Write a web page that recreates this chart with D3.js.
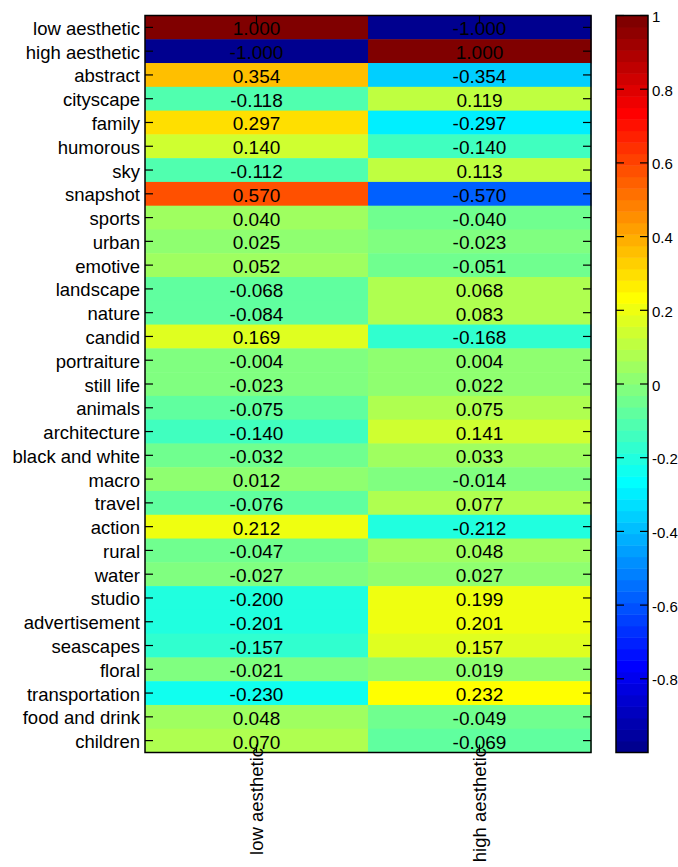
<!DOCTYPE html>
<html><head><meta charset="utf-8">
<script src="https://cdn.jsdelivr.net/npm/d3@7"></script>
<style>body{margin:0;background:#fff}svg{display:block;font-family:"Liberation Sans",Arial,sans-serif}</style>
</head><body>
<script>
const rows = ["low aesthetic","high aesthetic","abstract","cityscape","family","humorous","sky","snapshot","sports","urban","emotive","landscape","nature","candid","portraiture","still life","animals","architecture","black and white","macro","travel","action","rural","water","studio","advertisement","seascapes","floral","transportation","food and drink","children"];
const columns = ["low aesthetic","high aesthetic"];
const lowValues = [1.000,-1.000,0.354,-0.118,0.297,0.140,-0.112,0.570,0.040,0.025,0.052,-0.068,-0.084,0.169,-0.004,-0.023,-0.075,-0.140,-0.032,0.012,-0.076,0.212,-0.047,-0.027,-0.200,-0.201,-0.157,-0.021,-0.230,0.048,0.070];
const highValues = [-1.000,1.000,-0.354,0.119,-0.297,-0.140,0.113,-0.570,-0.040,-0.023,-0.051,0.068,0.083,-0.168,0.004,0.022,0.075,0.141,0.033,-0.014,0.077,-0.212,0.048,0.027,0.199,0.201,0.157,0.019,0.232,-0.049,-0.069];
const colorbarTicks = [-0.8,-0.6,-0.4,-0.2,0,0.2,0.4,0.6,0.8,1];

// MATLAB jet(64)
function jet(m){
  const n = Math.ceil(m/4);
  const u = [];
  for(let i=1;i<=n;i++) u.push(i/n);
  for(let i=1;i<n;i++) u.push(1);
  for(let i=n;i>=1;i--) u.push(i/n);
  const gOff = Math.ceil(n/2) - (m%4===1?1:0);
  const J = Array.from({length:m},()=>[0,0,0]);
  u.forEach((v,i)=>{
    const g = gOff + i;
    const r = g + n, b = g - n;
    if(r < m) J[r][0]=v;
    if(g < m) J[g][1]=v;
    if(b >= 0) J[b][2]=v;
  });
  return J.map(c=>d3.rgb(Math.round(c[0]*255),Math.round(c[1]*255),Math.round(c[2]*255)).toString());
}
const cmap = jet(64);
function colorOf(v){
  let idx = Math.floor((v+1)/2*64);
  idx = Math.max(0, Math.min(63, idx));
  return cmap[idx];
}

const W=678,H=867;
const svg = d3.select("body").append("svg").attr("width",W).attr("height",H);
const L=145,R=591,T=15.5,B=752.5;
const x = d3.scaleBand().domain(columns).range([L,R]);
const y = d3.scaleBand().domain(rows).range([T,B]);

const cells = [];
rows.forEach((r,i)=>{ cells.push({r,c:columns[0],v:lowValues[i]}); cells.push({r,c:columns[1],v:highValues[i]}); });

svg.append("g").selectAll("rect").data(cells).join("rect")
  .attr("x",d=>x(d.c)).attr("y",d=>y(d.r))
  .attr("width",x.bandwidth()+0.5).attr("height",y.bandwidth()+0.5)
  .attr("fill",d=>colorOf(d.v));

svg.append("g").selectAll("text").data(cells).join("text")
  .attr("x",d=>x(d.c)+x.bandwidth()/2).attr("y",d=>y(d.r)+y.bandwidth()/2+1.5)
  .attr("text-anchor","middle").attr("dominant-baseline","central")
  .attr("font-size",19).attr("fill","#000")
  .text(d=>d3.format(".3f")(d.v).replace("−","-"));

const tk = 8;
const ax = svg.append("g").attr("stroke","#000").attr("stroke-width",1.2);
rows.forEach(r=>{
  const yy = y(r)+y.bandwidth()/2;
  ax.append("line").attr("x1",L).attr("x2",L+tk).attr("y1",yy).attr("y2",yy);
  ax.append("line").attr("x1",R).attr("x2",R-tk).attr("y1",yy).attr("y2",yy);
});
columns.forEach(c=>{
  const xx = x(c)+x.bandwidth()/2;
  ax.append("line").attr("x1",xx).attr("x2",xx).attr("y1",T).attr("y2",T+tk);
  ax.append("line").attr("x1",xx).attr("x2",xx).attr("y1",B).attr("y2",B-tk);
});
svg.append("rect").attr("x",L).attr("y",T).attr("width",R-L).attr("height",B-T)
  .attr("fill","none").attr("stroke","#000").attr("stroke-width",1.5);

svg.append("g").selectAll("text").data(rows).join("text")
  .attr("x",L-5).attr("y",d=>y(d)+y.bandwidth()/2+1)
  .attr("text-anchor","end").attr("dominant-baseline","central")
  .attr("font-size",18.5).attr("fill","#000").text(d=>d);

svg.append("g").selectAll("text").data(columns).join("text")
  .attr("transform",d=>`translate(${x(d)+x.bandwidth()/2},748) rotate(-90)`)
  .attr("text-anchor","end").attr("dominant-baseline","central")
  .attr("font-size",18.5).attr("fill","#000").text(d=>d);

// colorbar
const cbL=616,cbR=648;
const cy = d3.scaleLinear().domain([-1,1]).range([B,T]);
const bands = d3.range(64);
svg.append("g").selectAll("rect").data(bands).join("rect")
  .attr("x",cbL).attr("width",cbR-cbL)
  .attr("y",i=>cy(-1+(i+1)*2/64)).attr("height",i=>cy(-1+i*2/64)-cy(-1+(i+1)*2/64)+0.5)
  .attr("fill",i=>cmap[i]);
const cax = svg.append("g").attr("stroke","#000").attr("stroke-width",1.2);
colorbarTicks.forEach(t=>{
  cax.append("line").attr("x1",cbL).attr("x2",cbL+tk).attr("y1",cy(t)).attr("y2",cy(t));
  cax.append("line").attr("x1",cbR).attr("x2",cbR-tk).attr("y1",cy(t)).attr("y2",cy(t));
});
svg.append("rect").attr("x",cbL).attr("y",T).attr("width",cbR-cbL).attr("height",B-T)
  .attr("fill","none").attr("stroke","#000").attr("stroke-width",1.5);
svg.append("g").selectAll("text").data(colorbarTicks).join("text")
  .attr("x",cbR+4).attr("y",t=>cy(t)+1).attr("dominant-baseline","central")
  .attr("font-size",15).attr("fill","#000").text(t=>String(t).replace("−","-"));
</script>
</body></html>
